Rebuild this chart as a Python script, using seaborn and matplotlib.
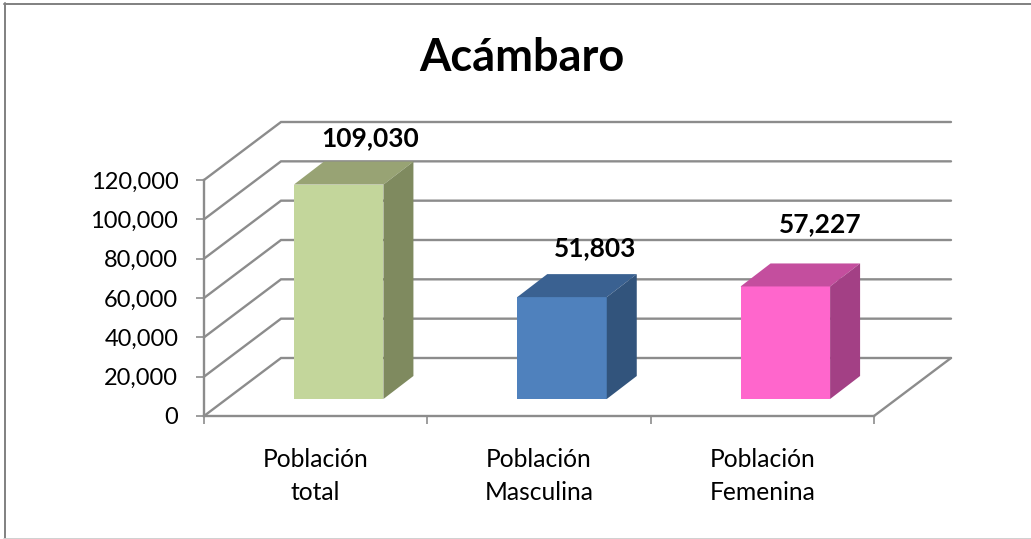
import matplotlib
matplotlib.use('Agg')
import matplotlib.pyplot as plt
import matplotlib.ticker as ticker
import pandas as pd
import seaborn as sns

categories = ['Población\ntotal', 'Población\nMasculina', 'Población\nFemenina']
values = [109030, 51803, 57227]
value_labels = ['109,030', '51,803', '57,227']
y_ticks = [0, 20000, 40000, 60000, 80000, 100000, 120000]

front_colors = ['#C3D69B', '#4F81BD', '#FF66CC']
top_colors = ['#98A374', '#3A6191', '#C44E9E']
side_colors = ['#7F8A5F', '#32547C', '#A34085']
label_offsets = [(31, 46), (33, 49), (35, 62)]

GRID = '#8C8C8C'
W, H = 1031, 539
AX_L, AX_R, AX_T, AX_B = 204, 874, 180, 416

sns.set_theme(style='white')
plt.rcParams['font.family'] = ['Lato', 'DejaVu Sans']

f = plt.figure(figsize=(W / 100, H / 100), dpi=100)
ax = f.add_axes([AX_L / W, 1 - AX_B / H, (AX_R - AX_L) / W, (AX_B - AX_T) / H])

df = pd.DataFrame({'categoria': categories, 'poblacion': values})
sns.barplot(data=df, x='categoria', y='poblacion', hue='categoria',
            palette=front_colors, width=89.5 / 223.3, legend=False,
            saturation=1, linewidth=0, ax=ax, zorder=3)

ax.set_xlim(-0.5, 2.5)
ax.set_ylim(0, 120000)

# pixel -> data helpers
px_x = 3 / (AX_R - AX_L)
px_y = 120000 / (AX_B - AX_T)

# back wall and floor
wall_dx = 77 * px_x
wall_dy = 58 * px_y
for v in y_ticks:
    ax.plot([-0.5, -0.5 + wall_dx, 2.5 + wall_dx], [v, v + wall_dy, v + wall_dy],
            color=GRID, lw=1.7, clip_on=False, zorder=1, solid_joinstyle='miter')
ax.plot([2.5, 2.5 + wall_dx], [0, wall_dy], color=GRID, lw=1.7, clip_on=False, zorder=1)

# fake 3d faces
bar_dx = 30 * px_x
bar_dy = 23 * px_y
for i, p in enumerate(ax.patches):
    p.set_x(p.get_x() + 23 * px_x)
    p.set_y(17 * px_y)
    p.set_clip_on(False)
    x0, x1 = p.get_x(), p.get_x() + p.get_width()
    y0, y1 = p.get_y(), p.get_y() + p.get_height()
    ax.fill([x0, x0 + bar_dx, x1 + bar_dx, x1], [y1, y1 + bar_dy, y1 + bar_dy, y1],
            color=top_colors[i], lw=0, clip_on=False, zorder=3)
    ax.fill([x1, x1 + bar_dx, x1 + bar_dx, x1], [y0, y0 + bar_dy, y1 + bar_dy, y1],
            color=side_colors[i], lw=0, clip_on=False, zorder=3)
    ax.annotate(value_labels[i], xy=((x0 + x1) / 2, y1),
                xytext=(label_offsets[i][0] * 0.72, label_offsets[i][1] * 0.72),
                textcoords='offset points', ha='center', va='center',
                fontsize=19, fontweight='bold', color='black', zorder=5,
                annotation_clip=False)

ax.set_xlabel(None)
ax.set_ylabel(None)
ax.set_yticks(y_ticks)
ax.yaxis.set_major_formatter(ticker.StrMethodFormatter('{x:,.0f}'))
ax.xaxis.set_minor_locator(ticker.FixedLocator([-0.5, 0.5, 1.5, 2.5]))
ax.tick_params(axis='x', which='major', length=0, pad=23, labelsize=17.7, labelcolor='black')
ax.tick_params(axis='x', which='minor', bottom=True, length=5.5, width=1.2, color=GRID)
ax.tick_params(axis='y', left=True, length=5.5, width=1.2, color=GRID, pad=13,
               labelsize=17, labelcolor='black')
for t in ax.get_xticklabels():
    t.set_linespacing(1.52)

for s in ['top', 'right']:
    ax.spines[s].set_visible(False)
for s in ['left', 'bottom']:
    ax.spines[s].set_color(GRID)
    ax.spines[s].set_linewidth(1.7)
    ax.spines[s].set_zorder(2)

f.text(522 / W, 1 - 58 / H, 'Acámbaro', ha='center', va='center',
       fontsize=32.5, fontweight='bold', color='black')

# chart frame
f.add_artist(plt.Line2D([5 / W, 5 / W], [0, 1 - 3 / H], color='#808080', lw=1.4))
f.add_artist(plt.Line2D([4 / W, 1], [1 - 3.5 / H, 1 - 3.5 / H], color='#808080', lw=1.4))
f.add_artist(plt.Line2D([4 / W, 1], [0.5 / H, 0.5 / H], color='#D0D0D0', lw=1.4))

plt.savefig('out.png', dpi=100)
